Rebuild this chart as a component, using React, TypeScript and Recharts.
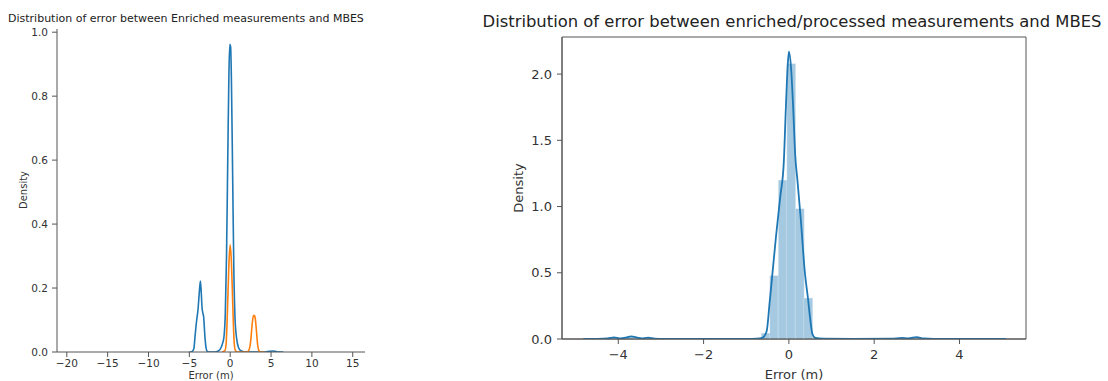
import React from 'react';
import { LineChart, Line, ComposedChart, Bar, XAxis, YAxis, ReferenceArea } from 'recharts';

// left panel: kde of the enriched error, two groups
const enrichedBlue: [number, number][] = [
  [-5, 0], [-4.7, 0.001], [-4.45, 0.01], [-4.3, 0.05], [-4.1, 0.1], [-3.95, 0.13], [-3.8, 0.18],
  [-3.65, 0.222], [-3.55, 0.19], [-3.45, 0.14], [-3.35, 0.122], [-3.25, 0.11], [-3.1, 0.05],
  [-2.95, 0.012], [-2.8, 0.002], [-2.5, 0], [-1.8, 0], [-1.4, 0.004], [-1.1, 0.015], [-0.9, 0.03],
  [-0.75, 0.05], [-0.6, 0.12], [-0.45, 0.3], [-0.3, 0.6], [-0.15, 0.88], [-0.05, 0.962],
  [0.05, 0.955], [0.15, 0.85], [0.3, 0.55], [0.45, 0.25], [0.6, 0.1], [0.8, 0.04], [1.0, 0.015],
  [1.3, 0.004], [1.8, 0], [4.3, 0], [4.8, 0.002], [5.2, 0.003], [5.7, 0.001], [6.5, 0],
];

const enrichedOrange: [number, number][] = [
  [-1.0, 0], [-0.65, 0.004], [-0.5, 0.025], [-0.4, 0.08], [-0.3, 0.16], [-0.15, 0.28], [0, 0.335],
  [0.15, 0.28], [0.3, 0.16], [0.4, 0.08], [0.5, 0.025], [0.65, 0.004], [0.9, 0], [2.0, 0],
  [2.2, 0.002], [2.4, 0.015], [2.55, 0.045], [2.7, 0.09], [2.85, 0.113], [2.95, 0.115],
  [3.05, 0.108], [3.2, 0.07], [3.35, 0.025], [3.5, 0.005], [3.7, 0], [4.2, 0],
];

const leftXTicks = [-20, -15, -10, -5, 0, 5, 10, 15];
const leftYTicks = [0, 0.2, 0.4, 0.6, 0.8, 1.0];

// right panel: histogram (bin centres, density) + kde
const binCenters = [-4.14, -3.74, -3.34, -0.55, -0.35, -0.15, 0.05, 0.25, 0.45, 2.86];
const binDensity = [0.01, 0.015, 0.01, 0.045, 0.48, 1.2, 2.08, 0.985, 0.31, 0.01];

const processedKde: [number, number][] = [
  [-4.82, 0], [-4.5, 0.001], [-4.25, 0.004], [-4.1, 0.012], [-3.95, 0.004], [-3.8, 0.012],
  [-3.7, 0.02], [-3.55, 0.01], [-3.45, 0.004], [-3.3, 0.01], [-3.15, 0.003], [-2.9, 0.001],
  [-2.0, 0], [-1.0, 0.001], [-0.75, 0.003], [-0.65, 0.006], [-0.58, 0.02], [-0.52, 0.06],
  [-0.45, 0.28], [-0.39, 0.48], [-0.3, 0.78], [-0.2, 1.08], [-0.12, 1.33], [-0.07, 1.75],
  [-0.03, 2.05], [0, 2.17], [0.05, 2.05], [0.1, 1.75], [0.15, 1.38], [0.2, 1.2], [0.28, 0.9],
  [0.375, 0.5], [0.45, 0.3], [0.5, 0.15], [0.55, 0.04], [0.62, 0.008], [0.8, 0.003], [1.5, 0.001],
  [2.4, 0.002], [2.65, 0.008], [2.8, 0.005], [3.0, 0.014], [3.15, 0.004], [3.4, 0.001],
  [4.5, 0.001], [5.09, 0],
];

const rightXTicks = [-4, -2, 0, 2, 4];
const rightYTicks = [0, 0.5, 1.0, 1.5, 2.0];

const RIGHT_X: [number, number] = [-5.32, 5.56];
const RIGHT_Y: [number, number] = [0, 2.28];

const toPoints = (pairs: [number, number][]) => pairs.map(([x, density]) => ({ x, density }));
const histData = binCenters.map((x, i) => ({ x, density: binDensity[i] }));

const minus = (v: number) => String(v).replace('-', '\u2212');
const oneDec = (v: number) => v.toFixed(1);

const FONT = "'DejaVu Sans', sans-serif";
const AXIS = '#555';
const TEXT = '#333';

const abs = (left: number, top: number): React.CSSProperties => ({
  position: 'absolute',
  left,
  top,
});

export default function App() {
  return (
    <div
      style={{
        position: 'absolute',
        left: 0,
        top: 0,
        width: 1108,
        height: 381,
        overflow: 'hidden',
        background: '#fff',
        fontFamily: FONT,
        color: '#222',
      }}
    >
      <div style={{ ...abs(8, 13), fontSize: 11, lineHeight: '11px', whiteSpace: 'nowrap' }}>
        Distribution of error between Enriched measurements and MBES
      </div>
      <div
        style={{
          ...abs(22.7, 190),
          fontSize: 10,
          color: TEXT,
          transform: 'translate(-50%, -50%) rotate(-90deg)',
          whiteSpace: 'nowrap',
        }}
      >
        Density
      </div>
      <div style={{ ...abs(211, 375), fontSize: 10, lineHeight: '11px', color: TEXT, transform: 'translate(-50%, -50%)', whiteSpace: 'nowrap' }}>
        Error (m)
      </div>

      <div style={abs(0, 0)}>
        <LineChart width={380} height={381} margin={{ top: 29, right: 15, bottom: 0, left: 0 }}>
          <XAxis
            type="number"
            dataKey="x"
            domain={[-21.2, 16.5]}
            allowDataOverflow
            ticks={leftXTicks}
            tickFormatter={minus}
            height={29}
            tickSize={5}
            tickMargin={3}
            stroke={AXIS}
            tick={{ fontSize: 10.5, fill: TEXT, fontFamily: FONT }}
          />
          <YAxis
            type="number"
            domain={[0, 1.01]}
            allowDataOverflow
            ticks={leftYTicks}
            tickFormatter={oneDec}
            width={57}
            tickSize={5}
            tickMargin={4}
            stroke={AXIS}
            tick={{ fontSize: 10.5, fill: TEXT, fontFamily: FONT }}
          />
          <Line
            data={toPoints(enrichedBlue)}
            dataKey="density"
            type="monotone"
            stroke="#1f77b4"
            strokeWidth={1.6}
            dot={false}
            isAnimationActive={false}
          />
          <Line
            data={toPoints(enrichedOrange)}
            dataKey="density"
            type="monotone"
            stroke="#ff7f0e"
            strokeWidth={1.6}
            dot={false}
            isAnimationActive={false}
          />
        </LineChart>
      </div>

      <div style={{ ...abs(792, 14), fontSize: 16.4, lineHeight: '16px', transform: 'translateX(-50%)', whiteSpace: 'nowrap' }}>
        Distribution of error between enriched/processed measurements and MBES
      </div>
      <div
        style={{
          ...abs(518, 188),
          fontSize: 13,
          color: TEXT,
          transform: 'translate(-50%, -50%) rotate(-90deg)',
          whiteSpace: 'nowrap',
        }}
      >
        Density
      </div>
      <div style={{ ...abs(794, 374), fontSize: 13, color: TEXT, transform: 'translate(-50%, -50%)', whiteSpace: 'nowrap' }}>
        Error (m)
      </div>

      <div style={abs(480, 0)}>
        <ComposedChart
          width={628}
          height={381}
          data={histData}
          barCategoryGap={0}
          margin={{ top: 37, right: 82, bottom: 0, left: 0 }}
        >
          <XAxis
            xAxisId="hist"
            type="number"
            dataKey="x"
            domain={RIGHT_X}
            allowDataOverflow
            ticks={rightXTicks}
            tickFormatter={minus}
            height={42}
            tickSize={5}
            tickMargin={6}
            stroke={AXIS}
            tick={{ fontSize: 13, fill: TEXT, fontFamily: FONT }}
          />
          <XAxis xAxisId="kde" type="number" dataKey="x" domain={RIGHT_X} allowDataOverflow hide />
          <YAxis
            yAxisId="density"
            type="number"
            domain={RIGHT_Y}
            allowDataOverflow
            ticks={rightYTicks}
            tickFormatter={oneDec}
            width={82}
            tickSize={5}
            tickMargin={5}
            stroke={AXIS}
            tick={{ fontSize: 13, fill: TEXT, fontFamily: FONT }}
          />
          <Bar
            xAxisId="hist"
            yAxisId="density"
            dataKey="density"
            fill="#1f77b4"
            fillOpacity={0.4}
            stroke="#fff"
            strokeWidth={0.4}
            isAnimationActive={false}
          />
          <Line
            xAxisId="kde"
            yAxisId="density"
            data={toPoints(processedKde)}
            dataKey="density"
            type="monotone"
            stroke="#1f77b4"
            strokeWidth={1.8}
            dot={false}
            isAnimationActive={false}
          />
          {/* full box frame, like the matplotlib spines */}
          <ReferenceArea
            xAxisId="hist"
            yAxisId="density"
            x1={RIGHT_X[0]}
            x2={RIGHT_X[1]}
            y1={RIGHT_Y[0]}
            y2={RIGHT_Y[1]}
            fill="none"
            stroke={AXIS}
            strokeWidth={1}
            ifOverflow="visible"
          />
        </ComposedChart>
      </div>
    </div>
  );
}
